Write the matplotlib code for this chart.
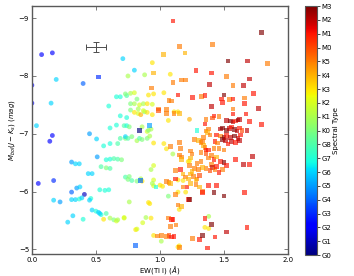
import numpy as np
import matplotlib
matplotlib.use('Agg')
import matplotlib.pyplot as plt

# spectral type codes: G0=0 ... G8=8, K0=9 ... K5=14, M0=15 ... M3=18
sptLabels = ['G0', 'G1', 'G2', 'G3', 'G4', 'G5', 'G6', 'G7', 'G8',
             'K0', 'K1', 'K2', 'K3', 'K4', 'K5', 'M0', 'M1', 'M2', 'M3']

# circle sample (mostly G and early K)
circ_ew = [0.076, 0.16, 0.71, 0.94, 0.80, 1.08, 0.88, 0.75, 0.19, 0.40, 0.0, 1.03, 0.91, 0.95,
           0.66, 0.69, 0.74, 0.82, 0.15, 0.0, 0.60, 0.77, 0.80, 0.84, 0.87, 0.90, 0.94, 0.69, 0.74,
           0.036, 0.45, 0.61, 0.66, 0.16, 0.14, 0.505, 0.61, 0.67, 0.69, 0.73, 0.56, 0.31, 0.34,
           0.37, 0.51, 0.54, 0.58, 0.61, 0.44, 0.47, 0.58, 0.61, 0.64, 0.67, 0.70, 0.05, 0.17,
           0.31, 0.35, 0.375, 0.41, 0.17, 0.22, 0.31, 0.34, 0.37, 0.39, 0.46, 0.45, 0.53, 0.57,
           0.60, 0.47, 0.50, 0.52, 0.54, 0.58, 0.53, 0.28, 0.32, 0.40, 0.56, 0.61, 0.64, 0.66,
           0.67, 0.72, 0.81, 0.93, 0.95, 0.86, 0.73, 0.77, 0.80, 0.77, 0.80, 0.83, 0.85, 0.88,
           1.065, 0.72, 0.74, 0.76, 0.86, 0.90, 0.91, 0.93, 0.73, 0.75, 0.78, 0.82, 0.84, 0.86,
           0.90, 0.92, 0.95, 1.03, 1.05, 1.10, 1.22, 1.23, 0.73, 0.76, 0.75, 0.78, 0.82, 0.85,
           0.95, 0.93, 0.95, 1.0, 1.02, 1.14, 1.18, 0.94, 1.065, 1.14, 1.20, 0.76, 0.91, 0.92,
           0.72, 0.865, 0.89, 0.82, 1.38, 1.35, 1.38, 0.95, 1.01, 1.15, 1.15, 1.14, 0.83, 0.87,
           0.90, 0.94, 1.11, 1.14, 1.23]
circ_mbol = [-8.37, -8.40, -8.30, -8.23, -8.10, -8.03, -8.02, -8.00, -7.94, -7.87, -7.84, -7.71,
             -7.67, -7.69, -7.64, -7.64, -7.66, -7.60, -7.53, -7.53, -7.48, -7.52, -7.52, -7.50,
             -7.52, -7.52, -7.51, -7.31, -7.28, -7.14, -7.00, -7.10, -7.15, -6.97, -6.87, -6.91,
             -6.83, -6.83, -6.92, -6.92, -6.79, -6.51, -6.48, -6.48, -6.60, -6.43, -6.41, -6.40,
             -6.31, -6.31, -6.55, -6.56, -6.57, -6.56, -6.55, -6.14, -6.19, -5.99, -6.06, -6.08,
             -5.95, -5.85, -5.82, -5.86, -5.86, -5.87, -5.89, -5.88, -5.85, -6.03, -6.02, -6.03,
             -5.68, -5.66, -5.64, -5.60, -5.62, -5.62, -5.47, -5.58, -5.52, -5.52, -5.54, -5.51,
             -5.49, -5.51, -5.54, -5.34, -5.54, -6.10, -6.18, -7.69, -7.70, -7.71, -7.41, -7.37,
             -7.35, -7.33, -7.38, -7.23, -7.14, -7.14, -7.12, -7.12, -7.04, -7.06, -7.08, -6.95,
             -6.92, -6.95, -6.88, -6.92, -6.90, -6.92, -6.96, -6.84, -6.83, -6.74, -6.65, -6.52,
             -6.53, -6.25, -6.26, -6.21, -6.19, -6.18, -6.22, -6.20, -6.38, -6.45, -6.11, -6.09,
             -6.20, -6.19, -6.14, -5.92, -5.99, -5.99, -5.82, -5.81, -5.79, -5.55, -5.46, -5.55,
             -5.35, -5.57, -5.38, -5.36, -5.24, -5.14, -5.06, -5.69, -5.04, -7.43, -7.40, -7.37,
             -7.33, -7.38, -7.38, -7.25]
circ_spt = [2, 2, 6, 12, 6, 12, 10, 10, 6, 4, 2, 12, 12, 12, 7, 7, 8, 9, 6, 2, 7, 9, 10, 11, 10,
            12, 11, 7, 7, 6, 5, 7, 7, 2, 2, 6, 7, 8, 8, 9, 7, 5, 6, 6, 5, 8, 9, 8, 6, 6, 7, 7, 8,
            8, 9, 2, 3, 4, 5, 6, 1, 6, 5, 6, 6, 7, 6, 7, 6, 7, 7, 7, 6, 7, 6, 7, 8, 6, 6, 6, 7, 12,
            10, 9, 11, 10, 11, 12, 12, 11, 12, 9, 10, 11, 9, 12, 11, 13, 9, 12, 8, 7, 9, 10, 11, 9,
            10, 6, 8, 9, 10, 8, 9, 9, 10, 12, 12, 12, 10, 12, 12, 8, 9, 9, 8, 9, 10, 11, 10, 11, 12,
            12, 12, 12, 10, 9, 12, 12, 10, 12, 12, 11, 11, 10, 11, 10, 12, 12, 12, 10, 12, 12, 12,
            10, 11, 12, 12, 12, 12, 13]

# square sample (mostly late K and M)
sq_ew = [0.52, 0.84, 0.92, 0.85, 0.97, 0.81, 1.29, 1.10, 1.79, 1.15, 1.41, 1.195, 1.026, 1.53,
         1.685, 1.84, 1.28, 1.40, 1.52, 1.70, 1.17, 1.20, 0.95, 1.10, 0.935, 1.57, 1.385, 1.65,
         1.50, 1.73, 1.255, 1.14, 1.325, 1.35, 1.48, 1.49, 1.54, 1.57, 1.66, 1.66, 1.09, 1.07,
         1.40, 1.77, 1.57, 1.57, 1.67, 1.42, 1.41, 1.46, 1.35, 1.36, 0.99, 0.99, 1.05, 1.05,
         1.11, 1.15, 1.52, 1.55, 1.57, 1.59, 1.61, 1.62, 1.70, 1.79, 1.47, 1.49, 1.52, 1.54,
         1.56, 1.58, 1.60, 1.62, 1.64, 1.68, 1.36, 1.38, 1.37, 1.39, 1.34, 1.44, 1.47, 1.50,
         1.52, 1.55, 1.58, 1.61, 1.63, 1.49, 1.51, 1.43, 1.45, 1.33, 1.34, 1.35, 1.36, 1.27,
         1.30, 1.32, 1.56, 1.59, 1.62, 1.42, 1.46, 1.50, 1.53, 1.72, 1.59, 1.65, 1.70, 1.15,
         1.16, 1.15, 1.08, 1.17, 1.17, 1.24, 1.25, 1.24, 1.32, 1.36, 1.38, 1.40, 1.38, 1.42,
         1.44, 1.47, 1.40, 1.41, 1.43, 1.44, 1.39, 1.50, 1.52, 1.49, 1.46, 1.36, 1.33, 1.30,
         1.27, 1.25, 1.24, 1.26, 1.29, 1.31, 1.28, 1.23, 1.29, 1.32, 1.16, 1.18, 1.20, 1.22,
         1.12, 1.12, 1.05, 1.07, 1.08, 1.18, 1.21, 1.24, 1.28, 1.31, 1.33, 1.33, 1.38, 1.44,
         1.42, 1.50, 1.66, 1.12, 1.22, 1.23, 1.17, 1.14, 1.10, 1.08, 1.065, 1.09, 1.125, 1.35,
         1.40, 1.52, 1.68, 0.98, 1.01, 1.05, 1.07, 1.09, 1.11, 1.255, 1.31, 1.33, 1.43, 1.37,
         1.15]
sq_mbol = [-7.98, -7.06, -7.14, -6.19, -6.08, -5.07, -7.06, -8.95, -8.75, -8.51, -8.55, -8.40,
           -8.37, -8.26, -8.26, -8.22, -8.09, -8.05, -7.99, -7.95, -7.93, -7.93, -8.05, -7.89,
           -7.79, -7.83, -7.85, -7.83, -7.67, -7.70, -7.63, -7.67, -7.64, -7.66, -7.60, -7.54,
           -7.59, -7.60, -7.62, -7.52, -7.57, -7.58, -7.47, -7.44, -7.43, -7.34, -7.34, -7.31,
           -7.27, -7.30, -7.17, -7.25, -7.43, -7.40, -7.42, -7.35, -7.35, -7.35, -7.23, -7.22,
           -7.20, -7.22, -7.24, -7.25, -7.21, -7.16, -7.08, -7.10, -7.06, -7.09, -7.12, -7.07,
           -7.05, -7.10, -7.06, -7.06, -7.05, -7.08, -7.02, -6.98, -6.93, -6.98, -6.96, -6.93,
           -6.97, -6.94, -6.96, -6.92, -6.98, -6.90, -6.88, -6.87, -6.84, -6.87, -6.80, -6.76,
           -6.72, -6.90, -6.88, -6.85, -6.87, -6.85, -6.88, -6.74, -6.74, -6.72, -6.82, -6.61,
           -6.55, -6.47, -6.47, -6.85, -6.74, -6.63, -6.78, -6.60, -6.55, -6.70, -6.65, -6.58,
           -6.68, -6.66, -6.72, -6.62, -6.58, -6.55, -6.60, -6.52, -6.47, -6.42, -6.38, -6.43,
           -6.36, -6.50, -6.45, -6.38, -6.33, -6.40, -6.42, -6.38, -6.40, -6.35, -6.30, -6.26,
           -6.22, -6.28, -6.20, -6.45, -6.48, -6.52, -6.38, -6.30, -6.25, -6.22, -6.36, -6.22,
           -6.17, -6.16, -6.14, -6.08, -6.08, -6.14, -6.12, -6.08, -6.00, -5.98, -6.10, -6.10,
           -5.98, -5.92, -5.98, -5.95, -5.86, -5.86, -5.74, -5.77, -5.52, -5.39, -5.54, -5.52,
           -5.42, -5.53, -5.43, -5.30, -5.38, -5.23, -5.24, -5.22, -5.24, -5.21, -5.22, -5.19,
           -5.17, -5.24, -5.21, -5.02, -5.03]
sq_spt = [3, 0, 5, 4, 7, 4, 7, 16, 18, 14, 14, 13, 13, 18, 17, 14, 16, 16, 14, 17, 14, 14, 13,
          14, 14, 14, 17, 17, 18, 16, 16, 16, 14, 16, 16, 16, 14, 16, 14, 16, 14, 14, 17, 17, 14,
          16, 16, 16, 15, 14, 16, 14, 14, 15, 14, 14, 14, 13, 17, 18, 17, 16, 18, 17, 16, 16, 17,
          18, 18, 17, 16, 18, 17, 16, 15, 17, 14, 14, 13, 14, 14, 16, 14, 18, 16, 17, 18, 17, 16,
          18, 17, 16, 14, 14, 13, 14, 16, 14, 13, 14, 17, 16, 17, 14, 14, 14, 16, 17, 16, 17, 16,
          14, 14, 14, 14, 14, 13, 14, 14, 13, 14, 15, 16, 14, 14, 16, 13, 16, 14, 17, 14, 16, 15,
          18, 16, 14, 16, 14, 13, 14, 14, 13, 13, 14, 14, 15, 13, 14, 14, 14, 16, 13, 14, 13, 14,
          16, 14, 14, 13, 14, 16, 13, 14, 13, 14, 16, 16, 16, 18, 18, 16, 14, 16, 18, 13, 14, 16,
          14, 14, 16, 14, 16, 18, 17, 16, 14, 14, 14, 15, 16, 16, 14, 16, 18, 16, 16, 14]

# typical uncertainty
err_ew, err_mbol = 0.075, 0.08

fig = plt.figure(figsize=(3.54, 2.76), dpi=100)
ax = fig.add_axes([0.090, 0.080, 0.724, 0.898])
cax = fig.add_axes([0.862, 0.076, 0.034, 0.902])

sc = ax.scatter(circ_ew, circ_mbol, c=circ_spt, cmap='jet', vmin=0, vmax=18,
                s=12, marker='o', linewidths=0, alpha=0.65, zorder=2)
ax.scatter(sq_ew, sq_mbol, c=sq_spt, cmap='jet', vmin=0, vmax=18,
           s=11, marker='s', linewidths=0, alpha=0.65, zorder=2)
ax.errorbar(0.5, -8.5, xerr=err_ew, yerr=err_mbol, color='0.3', lw=0.7,
            capsize=2, capthick=0.7, zorder=3)

ax.set_xlim(0.0, 2.0)
ax.set_ylim(-4.92, -9.21)
ax.set_xticks([0.0, 0.5, 1.0, 1.5, 2.0])
ax.set_yticks([-9, -8, -7, -6, -5])
ax.set_yticklabels(['\u22129', '\u22128', '\u22127', '\u22126', '\u22125'])
ax.tick_params(direction='in', top=True, right=True, labelsize=5, length=3,
               width=0.6, color='0.4', pad=2)
for sp in ax.spines.values():
    sp.set_color('0.35')
    sp.set_linewidth(1.0)

ax.set_xlabel('EW(Ti I) ($\\AA$)', fontsize=5, labelpad=1)
ax.set_ylabel('$M_{bol}(J-K_{s})\\ (mag)$', fontsize=5, labelpad=1)

cb = fig.colorbar(sc, cax=cax, ticks=np.arange(19))
cb.solids.set_alpha(1)
cb.set_ticklabels(sptLabels)
cb.ax.tick_params(labelsize=5, length=2, width=0.5, pad=1)
cb.outline.set_edgecolor('0.35')
cb.set_label('Spectral Type', fontsize=5, labelpad=1)

fig.savefig('out.png', dpi=100)
